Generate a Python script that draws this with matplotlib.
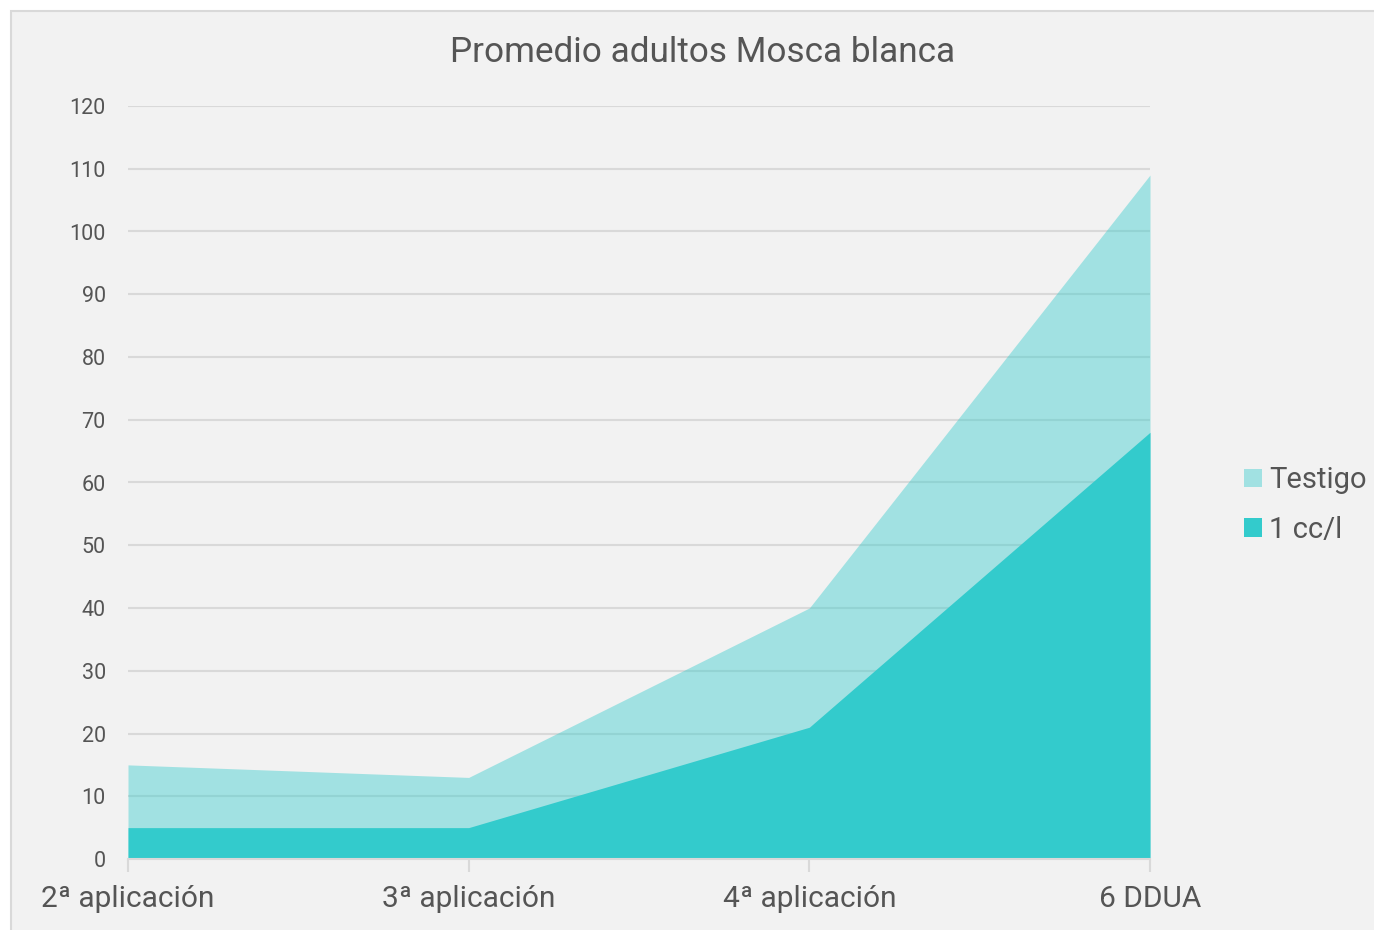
import matplotlib
matplotlib.use("Agg")
import matplotlib.pyplot as plt
from matplotlib.patches import Rectangle, Patch

categories = ["2ª aplicación", "3ª aplicación", "4ª aplicación", "6 DDUA"]
testigo = [15, 13, 40, 109]
dosis_1cc = [5, 5, 21, 68]
series_names = ["Testigo", "1 cc/l"]
title = "Promedio adultos Mosca blanca"
yticks = list(range(0, 121, 10))

TEXT = "#555555"
BG = "#f2f2f2"
DARK = "#33cbcc"
FONT = ["Roboto", "DejaVu Sans"]
plt.rcParams["font.family"] = FONT

fig = plt.figure(figsize=(13.74, 9.30), dpi=100, facecolor="white")
fig.patches.append(Rectangle((11 / 1374, -0.01), 1.02, (930 - 11) / 930 + 0.01,
                             transform=fig.transFigure, facecolor=BG,
                             edgecolor="#d9d9d9", linewidth=1.5, zorder=-10))

ax = fig.add_axes([128 / 1374, 71 / 930, (1150 - 128) / 1374, (859 - 106) / 930])
ax.set_facecolor("none")
x = list(range(len(categories)))

for y in yticks[1:]:
    ax.axhline(y, color="#d9d9d9", linewidth=1.5, zorder=1)

ax.fill_between(x, 0, testigo, color=DARK, alpha=0.42, linewidth=0, zorder=2)
ax.fill_between(x, 0, dosis_1cc, color=DARK, linewidth=0, zorder=3)

ax.set_xlim(0, 3)
ax.set_ylim(0, 120)
ax.set_yticks(yticks)
ax.set_xticks(x)
ax.set_xticklabels(categories)

for s in ["top", "right", "left"]:
    ax.spines[s].set_visible(False)
ax.spines["bottom"].set_color("#d9d9d9")
ax.spines["bottom"].set_linewidth(1.5)
ax.spines["bottom"].set_zorder(4)

ax.tick_params(axis="y", length=0, pad=16, labelsize=15.5, labelcolor=TEXT)
ax.tick_params(axis="x", length=9, width=1.5, color="#d9d9d9", pad=10,
               labelsize=21.5, labelcolor=TEXT)

fig.text(703 / 1374, 1 - 52 / 930, title, ha="center", va="center",
         fontsize=25.3, color=TEXT)

handles = [Patch(facecolor=DARK, alpha=0.42, edgecolor="none"),
           Patch(facecolor=DARK, edgecolor="none")]
fig.legend(handles, series_names, loc="center left",
           bbox_to_anchor=(1244 / 1374, 1 - 505 / 930), frameon=False,
           fontsize=21, labelcolor=TEXT, handlelength=0.6, handleheight=0.6,
           handletextpad=0.25, labelspacing=0.75, borderpad=0, borderaxespad=0)

fig.savefig("out.png", dpi=100, facecolor="white")
